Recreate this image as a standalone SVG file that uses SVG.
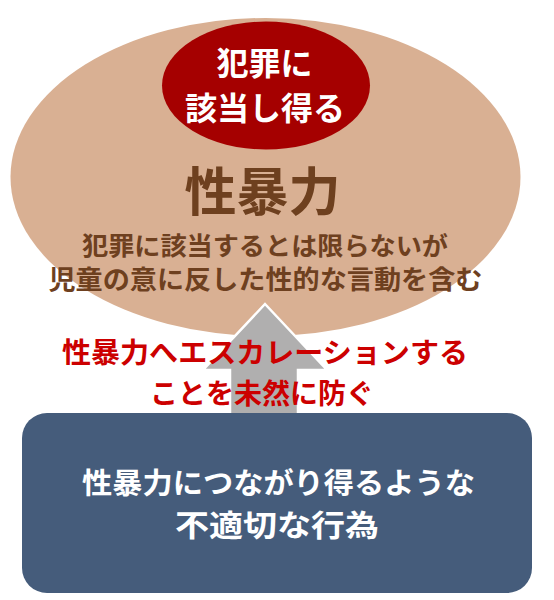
<svg xmlns="http://www.w3.org/2000/svg" width="554" height="600" viewBox="0 0 554 600">
  <style>
    text { font-family: "Noto Sans CJK JP", "Noto Sans CJK SC", sans-serif; font-weight: bold; text-anchor: middle; }
    .white { fill: #FFFFFF; }
    .brown { fill: #6E401F; }
    .red { fill: #CC0000; }
  </style>
  <rect width="554" height="600" fill="#FFFFFF"/>
  <g id="node-sexual-violence">
    <ellipse cx="265.5" cy="177" rx="255" ry="159" fill="#D9B093"/>
  </g>
  <g id="connectors">
    <path d="M265,304 L327,370 L298,370 L298,420 L230,420 L230,370 L203,370 Z" fill="#B0AFAF" stroke="#FFFFFF" stroke-width="2.5" stroke-linejoin="miter"/>
  </g>
  <g id="node-sexual-violence-text">
    <text x="262.5" y="211" class="brown" font-size="52">性暴力</text>
    <text x="265" y="255" class="brown" font-size="25" textLength="366" lengthAdjust="spacingAndGlyphs">犯罪に該当するとは限らないが</text>
    <text x="265.5" y="289" class="brown" font-size="26" textLength="434" lengthAdjust="spacingAndGlyphs">児童の意に反した性的な言動を含む</text>
  </g>
  <g id="node-crime">
    <ellipse cx="266" cy="85.5" rx="104" ry="64" fill="#A50000"/>
    <text x="264.5" y="75" class="white" font-size="32">犯罪に</text>
    <text x="265" y="120" class="white" font-size="32">該当し得る</text>
  </g>
  <g id="label-prevent">
    <text x="265" y="363" class="red" font-size="28" textLength="406" lengthAdjust="spacingAndGlyphs">性暴力へエスカレーションする</text>
    <text x="262" y="404" class="red" font-size="28">ことを未然に防ぐ</text>
  </g>
  <g id="node-inappropriate">
    <rect x="22" y="413" width="510" height="180" rx="25" ry="25" fill="#455C7B"/>
    <text x="278.5" y="494" class="white" font-size="29" textLength="393" lengthAdjust="spacingAndGlyphs">性暴力につながり得るような</text>
    <text x="277" y="536" class="white" font-size="30" textLength="204" lengthAdjust="spacingAndGlyphs">不適切な行為</text>
  </g>
</svg>
